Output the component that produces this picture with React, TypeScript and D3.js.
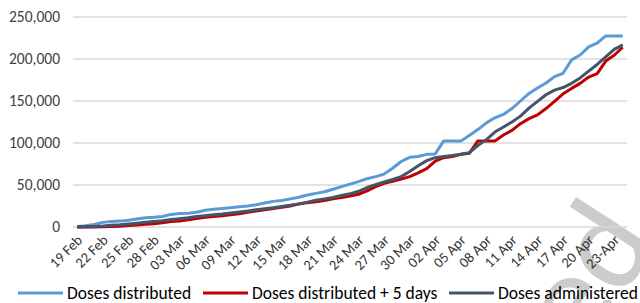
import * as d3 from 'd3';

// one category per day, 19 Feb .. 24 Apr
const days = d3.timeDay.range(new Date(2021, 1, 19), new Date(2021, 3, 25));

const tickLabels = [
  '19 Feb', '22 Feb', '25 Feb', '28 Feb', '03 Mar', '06 Mar', '09 Mar', '12 Mar',
  '15 Mar', '18 Mar', '21 Mar', '24 Mar', '27 Mar', '30 Mar', '02 Apr', '05 Apr',
  '08 Apr', '11 Apr', '14 Apr', '17 Apr', '20 Apr', '23-Apr',
];

const yTicks = [0, 50000, 100000, 150000, 200000, 250000];

const distributed = [
  500, 1500, 3000, 5500, 6500, 7000, 8000, 9500, 11000, 11500,
  12500, 15000, 16000, 16500, 17500, 20000, 21000, 22000, 23000, 24000,
  25000, 26500, 28500, 30500, 31500, 33500, 35500, 38000, 40000, 42000,
  45000, 48000, 51000, 54000, 57500, 60000, 63000, 70000, 78000, 83000,
  84000, 86500, 87000, 102500, 102500, 102500, 109000, 116000, 124000, 130000,
  134000, 141000, 150000, 159000, 165500, 171500, 179000, 183000, 199000, 204800,
  214500, 219000, 227500, 227500, 227500,
];

const distributedPlus5 = [
  0, 0, 0, 200, 500, 1000, 1800, 2500, 3200, 4000,
  5000, 6500, 7000, 8500, 10000, 11500, 12500, 13500, 14500, 15800,
  17500, 19000, 20500, 22000, 23500, 25000, 27500, 29000, 30000, 31500,
  33500, 35000, 37000, 39000, 43000, 48000, 52000, 54500, 57000, 60000,
  64500, 69500, 78500, 82500, 84000, 86500, 87700, 102500, 102500, 102500,
  109500, 115000, 123000, 129000, 133500, 141000, 149500, 158500, 165000, 171000,
  178500, 182500, 197500, 204500, 214000,
];

const administered = [
  0, 300, 700, 1200, 2000, 2600, 3500, 4500, 5600, 6500,
  7500, 8800, 9800, 11000, 12500, 13500, 14500, 15500, 16800, 17800,
  19000, 20500, 21700, 22800, 24500, 26000, 27500, 29500, 31800, 33500,
  35200, 37500, 39500, 42500, 47000, 50500, 53500, 56500, 60000, 66000,
  73000, 79000, 82500, 84000, 85000, 86500, 88500, 97000, 104000, 113000,
  119000, 125000, 132000, 141500, 149500, 157500, 163000, 166000, 171000, 177500,
  185500, 193500, 202500, 211500, 217000,
];

const series = [
  { name: 'Doses distributed', values: distributed, color: '#5B9BD5' },
  { name: 'Doses distributed + 5 days', values: distributedPlus5, color: '#C00000' },
  { name: 'Doses administered', values: administered, color: '#44546A' },
];

const W = 640;
const H = 303;
const font = 'Carlito, Calibri, Lato, sans-serif';

export default function App() {
  const x = d3
    .scalePoint<number>()
    .domain(d3.range(days.length))
    .range([73, 627])
    .padding(0.5);
  const y = d3.scaleLinear().domain([0, 250000]).range([227, 17]);

  const line = d3
    .line<number>()
    .x((_, i) => x(i) as number)
    .y((d) => y(d));

  const fmt = d3.format(',');
  const legendX = [18, 203, 449];

  return (
    <svg
      width={W}
      height={H}
      style={{ position: 'absolute', left: 0, top: 0, background: '#fff' }}
      fontFamily={font}
    >
      {/* watermark */}
      <text
        transform="translate(660,240) rotate(-57)"
        textAnchor="end"
        fontSize={135}
        fill="#cccccc"
      >
        Accepted
      </text>

      {yTicks.map((t) => (
        <g key={t}>
          <line x1={73} x2={627} y1={y(t)} y2={y(t)} stroke="#d9d9d9" strokeWidth={1.3} />
          <text x={60} y={y(t)} dy="0.35em" textAnchor="end" fontSize={15.5} fill="#404040">
            {fmt(t)}
          </text>
        </g>
      ))}

      {tickLabels.map((lab, i) => {
        const px = x(i * 3) as number;
        return (
          <text
            key={lab}
            transform={`translate(${px + 6},${241}) rotate(-45)`}
            textAnchor="end"
            fontSize={14.5}
            fill="#333"
          >
            {lab}
          </text>
        );
      })}

      {series.map((s) => (
        <path
          key={s.name}
          d={line(s.values) ?? ''}
          fill="none"
          stroke={s.color}
          strokeWidth={3}
          strokeLinejoin="round"
        />
      ))}

      {series.map((s, i) => (
        <g key={s.name} transform={`translate(${legendX[i]},293)`}>
          <line x1={0} x2={45} y1={0} y2={0} stroke={s.color} strokeWidth={3} />
          <text x={49} y={0} dy="0.32em" fontSize={17.5} fill="#000">
            {s.name}
          </text>
        </g>
      ))}
    </svg>
  );
}
